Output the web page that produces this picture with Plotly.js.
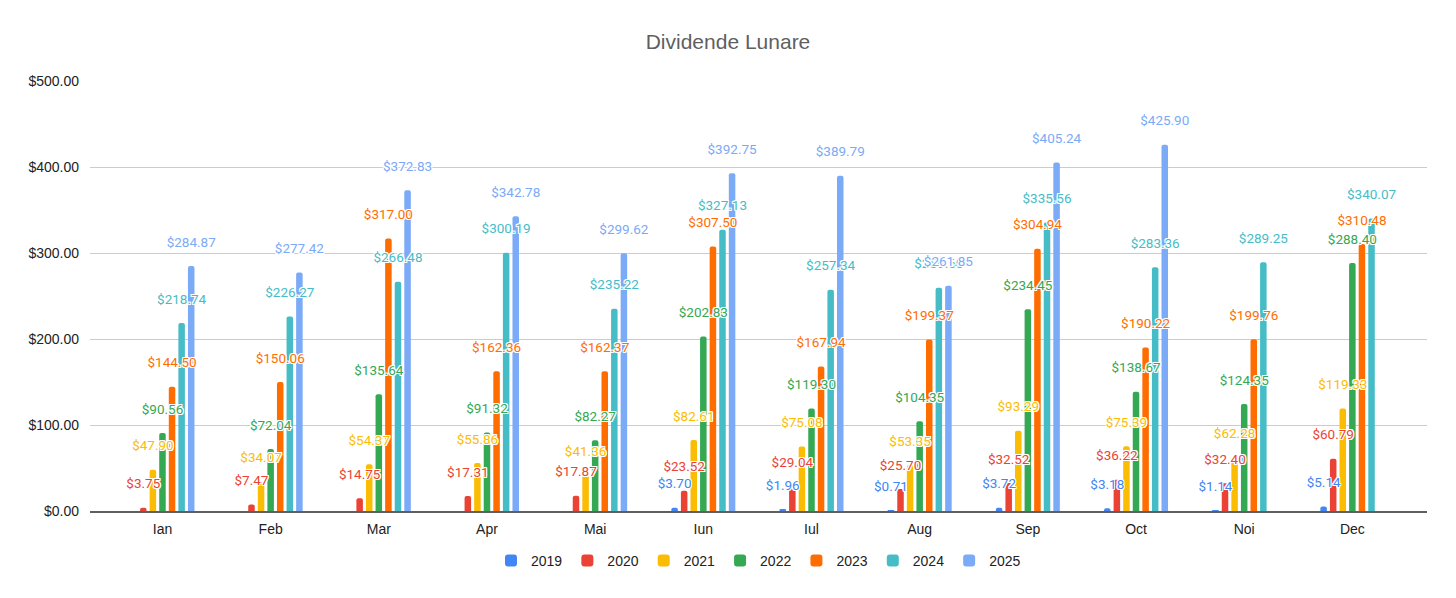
<!DOCTYPE html>
<html>
<head>
<meta charset="utf-8">
<script src="https://cdn.plot.ly/plotly-3.0.1.min.js"></script>
<style>
  html, body { margin: 0; padding: 0; background: #fff; }
  #chart { width: 1456px; height: 598px; }
</style>
</head>
<body>
<div id="chart"></div>
<script>
const months = ['Ian', 'Feb', 'Mar', 'Apr', 'Mai', 'Iun', 'Iul', 'Aug', 'Sep', 'Oct', 'Noi', 'Dec'];
const years = ['2019', '2020', '2021', '2022', '2023', '2024', '2025'];

const v2019 = [null, null, null, null, null, 3.70, 1.96, 0.71, 3.72, 3.18, 1.14, 5.14];
const v2020 = [3.75, 7.47, 14.75, 17.31, 17.87, 23.52, 29.04, 25.70, 32.52, 36.22, 32.40, 60.79];
const v2021 = [47.90, 34.07, 54.37, 55.86, 41.36, 82.61, 75.08, 53.35, 93.29, 75.39, 62.28, 119.33];
const v2022 = [90.56, 72.04, 135.64, 91.32, 82.27, 202.83, 119.30, 104.35, 234.45, 138.67, 124.35, 288.40];
const v2023 = [144.50, 150.06, 317.00, 162.36, 162.37, 307.50, 167.94, 199.37, 304.94, 190.22, 199.76, 310.48];
const v2024 = [218.74, 226.27, 266.48, 300.19, 235.22, 327.13, 257.34, 259.60, 335.56, 283.36, 289.25, 340.07];
const v2025 = [284.87, 277.42, 372.83, 342.78, 299.62, 392.75, 389.79, 261.85, 405.24, 425.90, null, null];

const values = [v2019, v2020, v2021, v2022, v2023, v2024, v2025];
const colors = ['#4285f4', '#ea4335', '#fbbc04', '#34a853', '#ff6d01', '#46bdc6', '#7baaf7'];

const halo = '1px 1px 0 #fff, -1px -1px 0 #fff, 1px -1px 0 #fff, -1px 1px 0 #fff, 0 1px 0 #fff, 0 -1px 0 #fff, 1px 0 0 #fff, -1px 0 0 #fff';

const bars = years.map((yr, i) => ({
    type: 'bar',
    name: yr,
    x: months,
    y: values[i],
    marker: { color: colors[i] },
    hovertemplate: yr + ' %{x}: %{y:$,.2f}<extra></extra>'
}));

// labels as grouped scatter text so they sit above every bar
const labels = years.map((yr, i) => ({
    type: 'scatter',
    mode: 'markers+text',
    x: months,
    y: values[i],
    text: values[i].map(v => v == null ? '' : '$' + v.toFixed(2)),
    textposition: 'top center',
    textfont: { family: 'Roboto, Arial, sans-serif', size: 13.5, color: colors[i], shadow: halo },
    marker: { size: 24, opacity: 0 },
    showlegend: false,
    hoverinfo: 'skip',
    cliponaxis: false
}));

const layout = {
    width: 1456,
    height: 598,
    paper_bgcolor: '#fff',
    plot_bgcolor: '#fff',
    font: { family: 'Liberation Sans, Arial, sans-serif', size: 14, color: '#222' },
    title: {
        text: 'Dividende Lunare',
        x: 0.5,
        xanchor: 'center',
        y: 0.931,
        yanchor: 'middle',
        font: { family: 'Liberation Sans, Arial, sans-serif', size: 21, color: '#5f5f5f' }
    },
    barmode: 'group',
    bargap: 0.38,
    bargroupgap: 0.32,
    barcornerradius: 2,
    scattermode: 'group',
    scattergap: 0.38,
    margin: { t: 81, l: 90, r: 29, b: 87, autoexpand: false },
    xaxis: {
        type: 'category',
        range: [-0.67, 11.69],
        showgrid: false,
        showline: true,
        linecolor: '#5f5f5f',
        linewidth: 2,
        ticks: '',
        ticklabelstandoff: 4,
        tickfont: { size: 14, color: '#222' },
        fixedrange: true
    },
    yaxis: {
        range: [0, 500],
        dtick: 100,
        tickformat: '$,.2f',
        gridcolor: '#cccccc',
        gridwidth: 1,
        zeroline: false,
        ticks: '',
        ticklabelstandoff: 10,
        tickfont: { size: 14, color: '#222' },
        fixedrange: true
    },
    legend: {
        orientation: 'h',
        x: 0.5,
        xanchor: 'center',
        y: -0.116,
        yanchor: 'middle',
        font: { size: 14, color: '#222' },
        itemclick: false,
        itemdoubleclick: false
    },
    showlegend: true
};

Plotly.newPlot('chart', bars.concat(labels), layout, { displayModeBar: false });
</script>
</body>
</html>
